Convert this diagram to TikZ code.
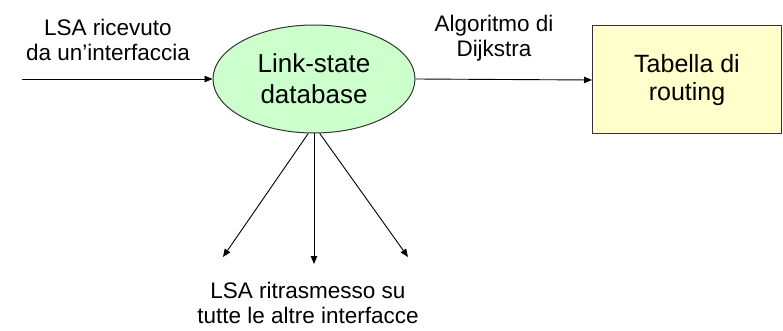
\documentclass[tikz,border=0pt]{standalone}
\usepackage{fontspec}
\setmainfont{Liberation Sans}
\usetikzlibrary{shapes.geometric,arrows.meta}
\definecolor{dbfill}{HTML}{CCFFCC}
\definecolor{tabfill}{HTML}{FFFFCC}
\definecolor{edge}{HTML}{333333}
\tikzset{
  flow/.style={draw=black, line width=0.9pt, -{Triangle[length=8pt,width=6.5pt]}},
  label/.style={align=center, font=\fontsize{22.5}{25.5}\selectfont, inner sep=0pt},
  dbnode/.style={ellipse, draw=edge, line width=1pt, fill=dbfill,
    minimum width=202pt, minimum height=108pt, inner sep=0pt,
    align=center, font=\fontsize{26}{31}\selectfont},
  tabnode/.style={rectangle, draw=edge, line width=1pt, fill=tabfill,
    minimum width=189pt, minimum height=108pt, inner sep=0pt,
    align=center, font=\fontsize{25}{28}\selectfont}
}
\begin{document}
\begin{tikzpicture}[x=1pt,y=-1pt]
  \useasboundingbox (0,0) rectangle (783,331);

  % main blocks
  \node[dbnode] (db) at (314,79) {Link-state\\database};
  \node[tabnode] (tab) at (687,80) {Tabella di\\routing};

  % free ends of the connectors
  \coordinate (src) at (22,79);
  \coordinate (outL) at (223,257);
  \coordinate (outM) at (314,264);
  \coordinate (outR) at (408,257);

  % connectors
  \draw[flow] (src) -- (db.west);
  \draw[flow] (db.east) -- (tab.west);
  \draw[flow] (db.-96) -- (outL);
  \draw[flow] (db.south) -- (outM);
  \draw[flow] (db.-84) -- (outR);

  % labels
  \node[label] (lin) at (108,40) {LSA ricevuto\\da un’interfaccia};
  \node[label] (lalg) at (494,38) {Algoritmo di\\Dijkstra};
  \node[label] (lout) at (308,303) {LSA ritrasmesso su\\tutte le altre interfacce};
\end{tikzpicture}
\end{document}
